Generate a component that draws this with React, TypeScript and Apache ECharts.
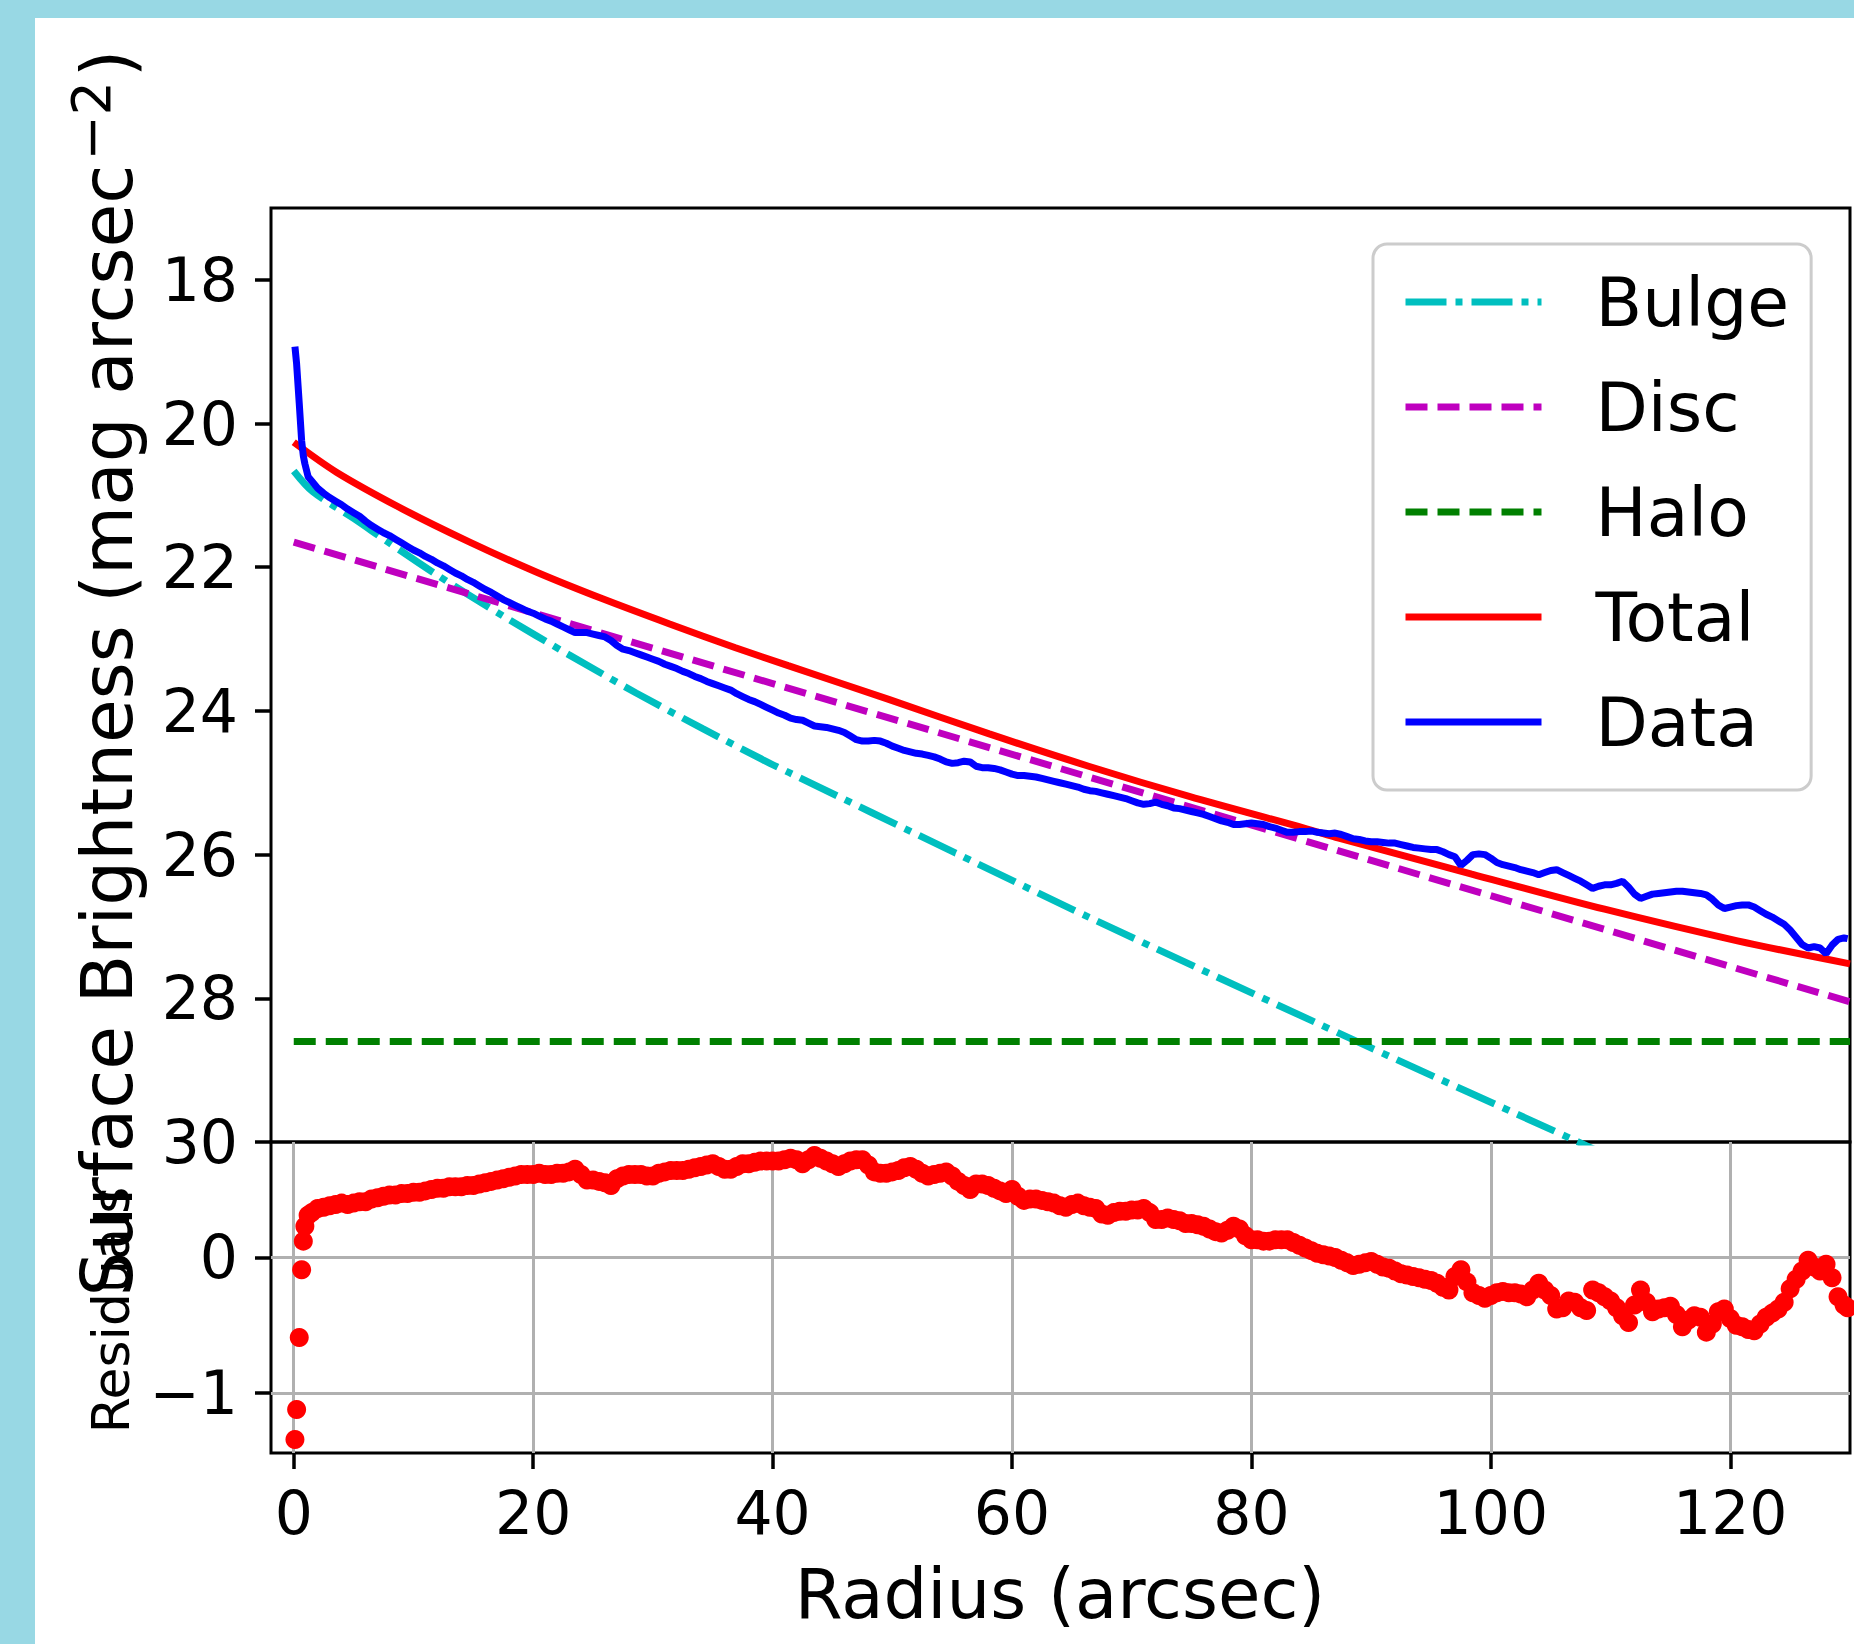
import React, { useEffect, useRef } from "react";
import * as echarts from "echarts";

// ---------- data ----------
const radius = [
  0.1, 0.24, 0.46, 0.66, 0.8, 0.93, 1.2,
  1.5, 2, 2.5, 3, 3.5, 4, 4.5, 5, 5.5, 6,
  6.5, 7, 7.5, 8, 8.5, 9, 9.5, 10, 10.5, 11,
  11.5, 12, 12.5, 13, 13.5, 14, 14.5, 15, 15.5, 16,
  16.5, 17, 17.5, 18, 18.5, 19, 19.5, 20, 20.5, 21,
  21.5, 22, 22.5, 23, 23.5, 24, 24.5, 25, 25.5, 26,
  26.5, 27, 27.5, 28, 28.5, 29, 29.5, 30, 30.5, 31,
  31.5, 32, 32.5, 33, 33.5, 34, 34.5, 35, 35.5, 36,
  36.5, 37, 37.5, 38, 38.5, 39, 39.5, 40, 40.5, 41,
  41.5, 42, 42.5, 43, 43.5, 44, 44.5, 45, 45.5, 46,
  46.5, 47, 47.5, 48, 48.5, 49, 49.5, 50, 50.5, 51,
  51.5, 52, 52.5, 53, 53.5, 54, 54.5, 55, 55.5, 56,
  56.5, 57, 57.5, 58, 58.5, 59, 59.5, 60, 60.5, 61,
  61.5, 62, 62.5, 63, 63.5, 64, 64.5, 65, 65.5, 66,
  66.5, 67, 67.5, 68, 68.5, 69, 69.5, 70, 70.5, 71,
  71.5, 72, 72.5, 73, 73.5, 74, 74.5, 75, 75.5, 76,
  76.5, 77, 77.5, 78, 78.5, 79, 79.5, 80, 80.5, 81,
  81.5, 82, 82.5, 83, 83.5, 84, 84.5, 85, 85.5, 86,
  86.5, 87, 87.5, 88, 88.5, 89, 89.5, 90, 90.5, 91,
  91.5, 92, 92.5, 93, 93.5, 94, 94.5, 95, 95.5, 96,
  96.5, 97, 97.5, 98, 98.5, 99, 99.5, 100, 100.5, 101,
  101.5, 102, 102.5, 103, 103.5, 104, 104.5, 105, 105.5, 106,
  106.5, 107, 107.5, 108, 108.5, 109, 109.5, 110, 110.5, 111,
  111.5, 112, 112.5, 113, 113.5, 114, 114.5, 115, 115.5, 116,
  116.5, 117, 117.5, 118, 118.5, 119, 119.5, 120, 120.5, 121,
  121.5, 122, 122.5, 123, 123.5, 124, 124.5, 125, 125.5, 126,
  126.5, 127, 127.5, 128, 128.5, 129, 129.5, 129.8,
];

const residuals = [
  -1.34, -1.12, -0.59, -0.09, 0.12, 0.23, 0.31,
  0.33, 0.36, 0.37, 0.38, 0.39, 0.40, 0.39, 0.40, 0.41, 0.41,
  0.43, 0.44, 0.45, 0.46, 0.46, 0.47, 0.47, 0.48, 0.48, 0.49,
  0.50, 0.51, 0.51, 0.52, 0.52, 0.52, 0.53, 0.53, 0.54, 0.55,
  0.56, 0.57, 0.58, 0.59, 0.60, 0.61, 0.61, 0.61, 0.62, 0.61,
  0.61, 0.62, 0.62, 0.63, 0.65, 0.61, 0.57, 0.57, 0.56, 0.55,
  0.53, 0.58, 0.60, 0.61, 0.61, 0.61, 0.60, 0.60, 0.62, 0.63,
  0.64, 0.64, 0.64, 0.65, 0.66, 0.67, 0.68, 0.69, 0.67, 0.65,
  0.65, 0.67, 0.69, 0.69, 0.70, 0.71, 0.71, 0.71, 0.71, 0.72,
  0.73, 0.72, 0.69, 0.72, 0.75, 0.73, 0.71, 0.69, 0.67, 0.69,
  0.71, 0.72, 0.72, 0.68, 0.63, 0.62, 0.62, 0.63, 0.64, 0.66,
  0.67, 0.65, 0.62, 0.60, 0.61, 0.62, 0.63, 0.60, 0.56, 0.53,
  0.50, 0.54, 0.54, 0.53, 0.51, 0.49, 0.47, 0.50, 0.45, 0.42,
  0.43, 0.43, 0.42, 0.41, 0.40, 0.38, 0.37, 0.39, 0.40, 0.38,
  0.37, 0.36, 0.32, 0.31, 0.33, 0.34, 0.34, 0.35, 0.35, 0.36,
  0.33, 0.28, 0.28, 0.29, 0.28, 0.27, 0.25, 0.25, 0.24, 0.23,
  0.21, 0.19, 0.18, 0.20, 0.23, 0.21, 0.16, 0.13, 0.13, 0.12,
  0.12, 0.13, 0.13, 0.13, 0.11, 0.09, 0.07, 0.05, 0.03, 0.02,
  0.01, 0.00, -0.02, -0.04, -0.06, -0.05, -0.04, -0.03, -0.05, -0.07,
  -0.08, -0.10, -0.12, -0.13, -0.14, -0.15, -0.16, -0.17, -0.19, -0.22,
  -0.24, -0.14, -0.09, -0.18, -0.26, -0.28, -0.30, -0.28, -0.26, -0.25,
  -0.26, -0.26, -0.27, -0.29, -0.24, -0.19, -0.24, -0.28, -0.38, -0.37,
  -0.32, -0.33, -0.37, -0.39, -0.24, -0.26, -0.29, -0.32, -0.37, -0.43,
  -0.48, -0.35, -0.24, -0.33, -0.40, -0.38, -0.37, -0.36, -0.42, -0.51,
  -0.46, -0.43, -0.44, -0.55, -0.49, -0.40, -0.38, -0.45, -0.50, -0.51,
  -0.53, -0.54, -0.49, -0.44, -0.41, -0.38, -0.33, -0.23, -0.16, -0.10,
  -0.02, -0.07, -0.10, -0.05, -0.15, -0.29, -0.35, -0.37,
];

const dataSB = [
  18.93, 19.17, 19.72, 20.24, 20.45, 20.56, 20.74,
  20.80, 20.90, 20.97, 21.03, 21.08, 21.13, 21.19, 21.24, 21.29, 21.36,
  21.42, 21.47, 21.52, 21.56, 21.61, 21.66, 21.71, 21.76, 21.80, 21.85,
  21.89, 21.94, 21.98, 22.03, 22.08, 22.12, 22.17, 22.21, 22.26, 22.31,
  22.35, 22.40, 22.45, 22.49, 22.53, 22.57, 22.61, 22.64, 22.68, 22.72,
  22.75, 22.79, 22.83, 22.87, 22.91, 22.91, 22.91, 22.93, 22.95, 22.97,
  23.02, 23.09, 23.14, 23.16, 23.19, 23.22, 23.25, 23.28, 23.31, 23.35,
  23.38, 23.41, 23.45, 23.48, 23.52, 23.55, 23.59, 23.62, 23.65, 23.68,
  23.71, 23.76, 23.80, 23.84, 23.87, 23.91, 23.95, 23.99, 24.03, 24.06,
  24.10, 24.12, 24.13, 24.17, 24.21, 24.22, 24.23, 24.25, 24.27, 24.30,
  24.35, 24.40, 24.42, 24.42, 24.41, 24.42, 24.45, 24.49, 24.52, 24.55,
  24.57, 24.59, 24.60, 24.62, 24.64, 24.67, 24.71, 24.73, 24.72, 24.70,
  24.71, 24.77, 24.79, 24.79, 24.80, 24.82, 24.85, 24.88, 24.90, 24.90,
  24.91, 24.92, 24.94, 24.96, 24.98, 25.00, 25.02, 25.04, 25.06, 25.09,
  25.11, 25.12, 25.14, 25.16, 25.18, 25.20, 25.22, 25.25, 25.28, 25.30,
  25.29, 25.27, 25.30, 25.32, 25.35, 25.36, 25.38, 25.40, 25.42, 25.44,
  25.47, 25.50, 25.53, 25.55, 25.58, 25.58, 25.57, 25.56, 25.57, 25.58,
  25.61, 25.63, 25.66, 25.69, 25.69, 25.68, 25.68, 25.67, 25.69, 25.70,
  25.71, 25.70, 25.72, 25.75, 25.78, 25.79, 25.81, 25.82, 25.82, 25.83,
  25.84, 25.84, 25.86, 25.88, 25.90, 25.91, 25.92, 25.93, 25.93, 25.96,
  26.00, 26.03, 26.15, 26.08, 26.00, 25.99, 26.00, 26.05, 26.11, 26.14,
  26.16, 26.18, 26.21, 26.23, 26.25, 26.28, 26.25, 26.22, 26.21, 26.25,
  26.29, 26.33, 26.37, 26.42, 26.47, 26.44, 26.42, 26.42, 26.40, 26.37,
  26.45, 26.55, 26.61, 26.58, 26.55, 26.54, 26.53, 26.52, 26.51, 26.51,
  26.52, 26.53, 26.54, 26.56, 26.62, 26.70, 26.75, 26.73, 26.71, 26.70,
  26.70, 26.73, 26.78, 26.83, 26.87, 26.92, 26.97, 27.05, 27.15, 27.25,
  27.30, 27.28, 27.30, 27.38, 27.26, 27.18, 27.16, 27.17,
];

const bulgeR = [0, 1.6, 5, 7.7, 11.9, 17.5, 23, 28.6, 34.2, 39.2, 41.4, 55.3, 66.4, 88.8, 107.3, 115];
const bulgeSB = [20.66, 20.95, 21.32, 21.63, 22.1, 22.68, 23.22, 23.75, 24.25, 24.68, 24.86, 25.98, 26.87, 28.6, 30.0, 30.6];

const discR = [0, 130];
const discSB = [21.65, 28.05];

const haloR = [0, 130];
const haloSB = [28.6, 28.6];

const totalR = [0, 3.6, 9.1, 14.7, 20.3, 25.8, 31.4, 36.9, 41.3, 49.7, 58.1, 66.4, 74.8, 84.6, 87.3, 98.4, 109.5, 120.6, 130];
const totalSB = [20.26, 20.68, 21.19, 21.65, 22.07, 22.44, 22.79, 23.12, 23.37, 23.84, 24.32, 24.77, 25.19, 25.64, 25.77, 26.27, 26.76, 27.2, 27.52];

const xTicks = [0, 20, 40, 60, 80, 100, 120];
const yTicksMain = [18, 20, 22, 24, 26, 28, 30];
const yTicksRes = [-1, 0];

const legendNames = ["Bulge", "Disc", "Halo", "Total", "Data"];

// ---------- helpers ----------
const FONT = "DejaVu Sans";
const LW = 7;
const pairs = (xs: number[], ys: number[]) => xs.map((x, i) => [x, ys[i]]);
const minusFmt = (v: number) => (v < 0 ? "\u2212" + Math.abs(v) : String(v));

export default function App() {
  const ref = useRef<HTMLDivElement>(null);

  useEffect(() => {
    if (!ref.current) return;
    const chart = echarts.init(ref.current, undefined, { renderer: "svg" });

    const tickStyle = { color: "#000", width: 3.5 };
    const labelBase = { fontSize: 60, fontFamily: FONT, color: "#000" };
    const gridLine = { show: true, lineStyle: { color: "#b0b0b0", width: 3, type: "solid" } };

    const option: any = {
      animation: false,
      backgroundColor: "#ffffff",
      grid: [
        { left: 271, top: 208, width: 1579, height: 934, show: true, borderColor: "#000", borderWidth: 3, backgroundColor: "transparent", containLabel: false, outerBoundsMode: "none" },
        { left: 271, top: 1142, width: 1579, height: 311, show: true, borderColor: "#000", borderWidth: 3, backgroundColor: "transparent", containLabel: false, outerBoundsMode: "none" },
      ],
      xAxis: [
        {
          gridIndex: 0, type: "value", min: -1.9, max: 130, position: "bottom",
          axisLine: { show: false, onZero: false }, axisTick: { show: false }, axisLabel: { show: false }, splitLine: { show: false },
        },
        {
          gridIndex: 1, type: "value", min: -1.9, max: 130, splitNumber: 7, position: "bottom",
          axisLine: { show: false, onZero: false },
          axisTick: { show: true, length: 16, lineStyle: tickStyle, customValues: xTicks },
          axisLabel: { ...labelBase, margin: 30, customValues: xTicks, formatter: (v: number) => String(v) },
          splitLine: gridLine,
        },
      ],
      yAxis: [
        {
          gridIndex: 0, type: "value", inverse: true, min: 17, max: 30, splitNumber: 6, position: "left",
          axisLine: { show: false, onZero: false },
          axisTick: { show: true, length: 16, lineStyle: tickStyle, customValues: yTicksMain },
          axisLabel: { ...labelBase, margin: 33, customValues: yTicksMain, formatter: (v: number) => String(v) },
          splitLine: { show: false },
        },
        {
          gridIndex: 1, type: "value", min: -1.44, max: 0.85, splitNumber: 2, position: "left",
          axisLine: { show: false, onZero: false },
          axisTick: { show: true, length: 16, lineStyle: tickStyle, customValues: yTicksRes },
          axisLabel: { ...labelBase, margin: 33, customValues: yTicksRes, formatter: minusFmt },
          splitLine: gridLine,
        },
      ],
      legend: {
        data: legendNames,
        orient: "vertical",
        left: 1373,
        top: 244,
        padding: [18, 22, 28, 29],
        itemWidth: 136,
        itemHeight: 6,
        itemGap: 25,
        selectedMode: false,
        backgroundColor: "rgba(255,255,255,0.8)",
        borderColor: "#cccccc",
        borderWidth: 3,
        borderRadius: 14,
        itemStyle: { opacity: 0 },
        lineStyle: { width: LW },
        textStyle: { fontSize: 68, fontFamily: FONT, color: "#000", lineHeight: 80, padding: [0, 0, 0, 49] },
      },
      series: [
        {
          name: "Bulge", type: "line", xAxisIndex: 0, yAxisIndex: 0, data: pairs(bulgeR, bulgeSB),
          symbol: "none", smooth: 0.3, silent: true,
          lineStyle: { color: "#00bfbf", width: LW, type: [41, 9, 7, 9] }, itemStyle: { color: "#00bfbf" },
        },
        {
          name: "Disc", type: "line", xAxisIndex: 0, yAxisIndex: 0, data: pairs(discR, discSB),
          symbol: "none", silent: true,
          lineStyle: { color: "#bf00bf", width: LW, type: [22, 10] }, itemStyle: { color: "#bf00bf" },
        },
        {
          name: "Halo", type: "line", xAxisIndex: 0, yAxisIndex: 0, data: pairs(haloR, haloSB),
          symbol: "none", silent: true,
          lineStyle: { color: "#008000", width: LW, type: [22, 10] }, itemStyle: { color: "#008000" },
        },
        {
          name: "Total", type: "line", xAxisIndex: 0, yAxisIndex: 0, data: pairs(totalR, totalSB),
          symbol: "none", smooth: 0.3, silent: true,
          lineStyle: { color: "#ff0000", width: LW, type: "solid" }, itemStyle: { color: "#ff0000" },
        },
        {
          name: "Data", type: "line", xAxisIndex: 0, yAxisIndex: 0, data: pairs(radius, dataSB),
          symbol: "none", silent: true,
          lineStyle: { color: "#0000ff", width: LW, type: "solid" }, itemStyle: { color: "#0000ff" },
        },
        {
          name: "Residuals", type: "scatter", xAxisIndex: 1, yAxisIndex: 1, data: pairs(radius, residuals),
          symbol: "circle", symbolSize: 19, silent: true,
          itemStyle: { color: "#ff0000", opacity: 1 },
        },
      ],
      graphic: [
        { type: "rect", z: -10, silent: true, shape: { x: 0, y: 0, width: 1854, height: 18 }, style: { fill: "#98d8e4" } },
        { type: "rect", z: -10, silent: true, shape: { x: 0, y: 0, width: 35, height: 1644 }, style: { fill: "#98d8e4" } },
        {
          type: "text", x: 1060, y: 1594, silent: true,
          style: { text: "Radius (arcsec)", fontSize: 69, fontFamily: FONT, fill: "#000", align: "center", verticalAlign: "middle" },
        },
        {
          type: "text", x: 107, y: 673, rotation: Math.PI / 2, silent: true,
          style: {
            text: "{n|Surface Brightness (mag arcsec}{s|\u22122}{n|)}",
            align: "center", verticalAlign: "middle", fill: "#000", fontSize: 71, fontFamily: FONT,
            rich: {
              n: { fontSize: 71, fontFamily: FONT, fill: "#000", lineHeight: 86, verticalAlign: "middle" },
              s: { fontSize: 54, fontFamily: FONT, fill: "#000", lineHeight: 34, verticalAlign: "top", padding: [0, 4, 0, 4] },
            },
          },
        },
        {
          type: "text", x: 111, y: 1310, rotation: Math.PI / 2, silent: true,
          style: { text: "Residuals", fontSize: 52, fontFamily: FONT, fill: "#000", align: "center", verticalAlign: "middle" },
        },
      ],
    };

    chart.setOption(option);
    return () => chart.dispose();
  }, []);

  return <div ref={ref} style={{ position: "absolute", left: 0, top: 0, width: 1854, height: 1644 }} />;
}
